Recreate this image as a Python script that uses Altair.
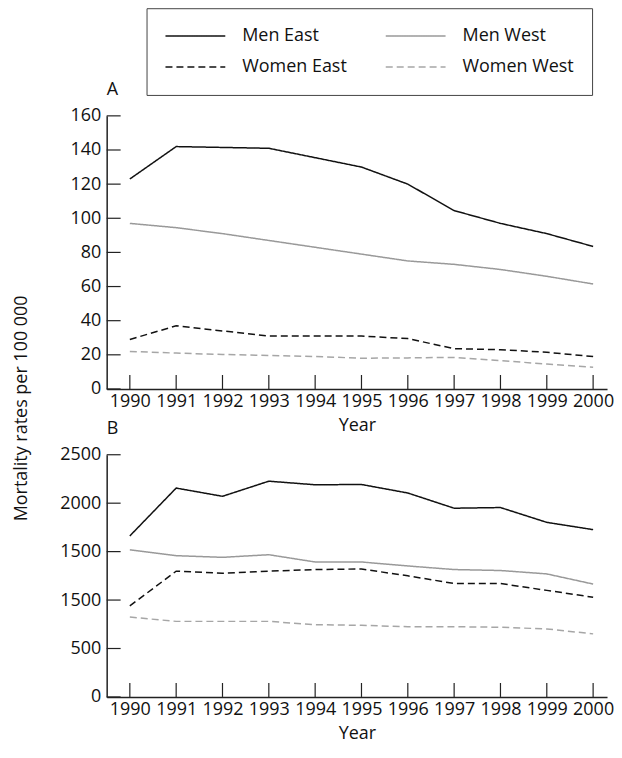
import altair as alt
import pandas as pd

FONT = "Open Sans"

years = list(range(1990, 2001))
# legend entries are laid out column by column
series = ["Men East", "Women East", "Men West", "Women West"]
colors = ["#111111", "#111111", "#999999", "#a6a6a6"]
dashes = [[1, 0], [7, 4], [1, 0], [7, 4]]

# Panel A
a_men_east = [123, 142, 141.5, 141, 135.5, 130, 120, 104.5, 97, 91, 83.5]
a_women_east = [29, 37, 34, 31, 31, 31, 29.5, 23.6, 23, 21.5, 19]
a_men_west = [97, 94.5, 91, 87, 83, 79, 75, 73, 70, 66, 61.5]
a_women_west = [22, 21, 20.2, 19.6, 19, 18, 18.2, 18.5, 16.6, 14.6, 12.7]

# Panel B
b_men_east = [1662, 2156, 2071, 2227, 2190, 2193, 2105, 1948, 1955, 1802, 1727]
b_women_east = [940, 1298, 1277, 1298, 1315, 1321, 1250, 1171, 1171, 1100, 1029]
b_men_west = [1519, 1458, 1441, 1468, 1393, 1393, 1352, 1315, 1305, 1270, 1165]
b_women_west = [824, 780, 780, 780, 746, 739, 725, 725, 719, 702, 651]

a_ticks = [0, 20, 40, 60, 80, 100, 120, 140, 160]
a_labels = ["0", "20", "40", "60", "80", "100", "120", "140", "160"]
b_ticks = [0, 500, 1000, 1500, 2000, 2500]
b_labels = ["0", "500", "1500", "1500", "2000", "2500"]

y_title = "Mortality rates per 100 000"
x_title = "Year"


def long_df(cols):
    rows = []
    for s, vals in zip(series, cols):
        for y, v in zip(years, vals):
            rows.append({"Year": y, "Series": s, "Value": v})
    return pd.DataFrame(rows)


def label_expr(ticks, labels):
    expr = "datum.label"
    for t, l in zip(ticks, labels):
        expr = f"datum.value == {t} ? '{l}' : ({expr})"
    return expr


W = 502
TICK = 14

xscale = alt.Scale(domain=[1989.5, 2000.3], nice=False, zero=False)
xaxis = alt.Axis(values=years, format="d", title=x_title, labelPadding=4,
                 titlePadding=6, labelFlush=False, labelOverlap=False)


def panel(cols, letter, ticks, labels, H, first):
    df = long_df(cols)
    yscale = alt.Scale(domain=[ticks[0], ticks[-1]], nice=False)
    yaxis_kwargs = dict(values=ticks, labelExpr=label_expr(ticks, labels), labelPadding=6,
                        labelOverlap=False)
    if first:
        yaxis_kwargs.update(title=y_title, titleX=-76, titleY=293, titleAngle=270,
                            titleAlign="center", titleBaseline="bottom")
    else:
        yaxis_kwargs.update(title=None)
    yaxis = alt.Axis(**yaxis_kwargs)
    legend = None
    if first:
        legend = alt.Legend(orient="none", legendX=40, legendY=-108, columns=2, title=None,
                            symbolType="stroke", symbolSize=3600, symbolStrokeWidth=1.5,
                            labelFontSize=18, labelFont=FONT, labelColor="#111111",
                            strokeColor="#444444", padding=18, columnPadding=38,
                            rowPadding=11, labelOffset=16, clipHeight=20)
    lines = alt.Chart(df).mark_line(strokeWidth=1.5).encode(
        x=alt.X("Year:Q", scale=xscale, axis=xaxis),
        y=alt.Y("Value:Q", scale=yscale, axis=yaxis),
        color=alt.Color("Series:N", scale=alt.Scale(domain=series, range=colors),
                        legend=legend),
        strokeDash=alt.StrokeDash("Series:N", scale=alt.Scale(domain=series, range=dashes),
                                  legend=legend),
    )
    xt = alt.Chart(pd.DataFrame({"Year": years})).mark_rule(color="#222222", strokeWidth=1.2).encode(
        x=alt.X("Year:Q", scale=xscale, axis=xaxis),
        y=alt.value(H), y2=alt.value(H - TICK),
    )
    yt = alt.Chart(pd.DataFrame({"Value": ticks})).mark_rule(color="#222222", strokeWidth=1.2).encode(
        y=alt.Y("Value:Q", scale=yscale, axis=yaxis),
        x=alt.value(0), x2=alt.value(TICK),
    )
    return alt.layer(lines, xt, yt).properties(
        width=W, height=H,
        title=alt.TitleParams(letter, anchor="start", frame="group", offset=8,
                              fontSize=18, font=FONT, fontWeight="normal", color="#111111"),
    )


pa = panel([a_men_east, a_women_east, a_men_west, a_women_west], "A", a_ticks, a_labels,
           274, True)
pb = panel([b_men_east, b_women_east, b_men_west, b_women_west], "B", b_ticks, b_labels,
           243, False)

chart = alt.vconcat(pa, pb, spacing=66, bounds="flush").configure_view(
    stroke=None
).configure_axis(
    grid=False, ticks=False, domainColor="#222222", domainWidth=1.5,
    labelFont=FONT, labelFontSize=18, labelColor="#111111",
    titleFont=FONT, titleFontSize=18, titleFontWeight="normal", titleColor="#111111",
).properties(
    padding={"left": 5, "top": -2, "right": 0, "bottom": 0}
)

chart.save("out.html", embed_options={"renderer": "svg", "actions": False})
